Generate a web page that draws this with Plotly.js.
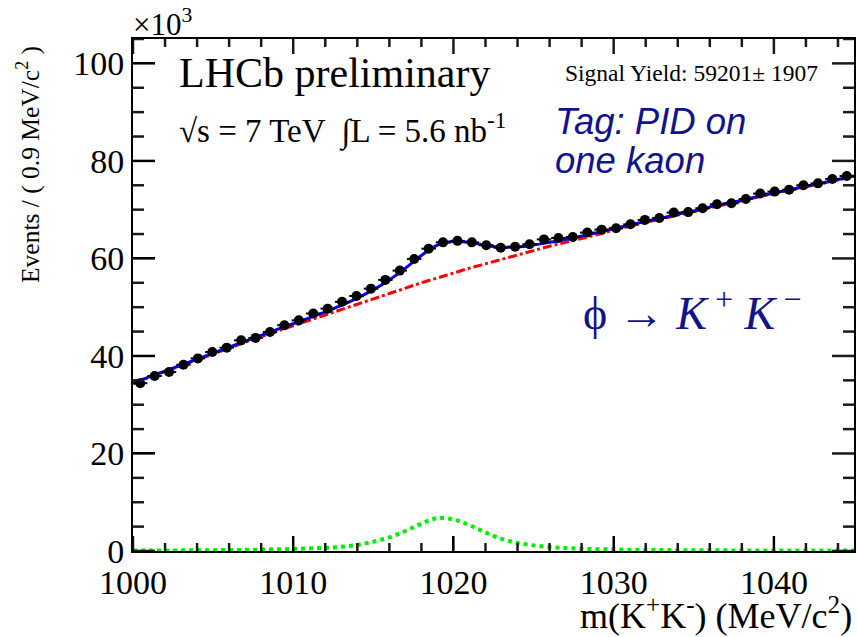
<!DOCTYPE html>
<html>
<head>
<meta charset="utf-8">
<script src="https://cdn.plot.ly/plotly-3.0.1.min.js"></script>
<style>html,body{margin:0;padding:0;background:#fff;}#chart{width:857px;height:637px;}</style>
</head>
<body>
<div id="chart"></div>
<script>
// Data points: bin centres (MeV/c^2) and events per 0.9 MeV/c^2 (x 10^3)
const binCenters = [1000.45,1001.35,1002.25,1003.15,1004.05,1004.95,1005.85,1006.75,1007.65,1008.55,
  1009.45,1010.35,1011.25,1012.15,1013.05,1013.95,1014.85,1015.75,1016.65,1017.55,
  1018.45,1019.35,1020.25,1021.15,1022.05,1022.95,1023.85,1024.75,1025.65,1026.55,
  1027.45,1028.35,1029.25,1030.15,1031.05,1031.95,1032.85,1033.75,1034.65,1035.55,
  1036.45,1037.35,1038.25,1039.15,1040.05,1040.95,1041.85,1042.75,1043.65,1044.55];
const events = [34.4,35.9,36.7,38.2,39.5,40.8,41.7,43.2,43.7,44.9,
  46.3,47.3,48.7,49.7,51.1,52.3,53.8,55.6,57.5,59.9,
  62.0,63.3,63.6,63.3,62.7,62.2,62.4,62.9,63.9,64.2,
  64.4,65.3,65.9,66.2,67.0,67.9,68.3,69.4,69.5,70.3,
  71.1,71.3,72.2,73.3,73.7,74.1,75.0,75.4,76.3,76.9];
const statErr = 0.3;       // per-bin statistical error (x 10^3)
const binHalfWidth = 0.45; // half of 0.9 MeV/c^2

// Fit curves sampled every 1 MeV/c^2
const curveMass = [1000,1001,1002,1003,1004,1005,1006,1007,1008,1009,1010,1011,1012,1013,1014,1015,
  1016,1017,1018,1019,1020,1021,1022,1023,1024,1025,1026,1027,1028,1029,1030,1031,1032,1033,1034,1035,
  1036,1037,1038,1039,1040,1041,1042,1043,1044,1045];
const totalFit = [34.4,35.7,36.9,38.1,39.35,40.6,41.8,43.0,44.2,45.45,46.6,47.8,49.05,50.35,51.85,53.6,
  55.6,58.0,60.6,62.75,63.45,63.3,62.7,62.3,62.35,62.75,63.3,63.9,64.6,65.3,66.1,66.85,67.6,68.3,69.05,69.75,
  70.55,71.25,71.9,72.7,73.4,74.1,74.8,75.5,76.2,76.9];
const background = [34.3,35.6,36.8,38.0,39.2,40.4,41.6,42.8,43.9,45.1,46.2,47.3,48.4,49.5,50.6,51.7,
  52.8,53.9,55.0,56.0,57.0,58.0,58.9,59.8,60.7,61.6,62.5,63.3,64.1,64.9,65.8,66.6,67.4,68.1,68.9,69.6,
  70.4,71.1,71.8,72.6,73.3,74.0,74.7,75.4,76.1,76.8];
const signal = [0.10,0.10,0.12,0.13,0.15,0.17,0.20,0.24,0.29,0.35,0.42,0.52,0.65,0.85,1.25,1.9,
  2.8,4.1,5.6,6.75,6.45,5.3,3.8,2.5,1.65,1.15,0.82,0.60,0.47,0.38,0.31,0.26,0.22,0.19,0.17,0.15,
  0.14,0.13,0.12,0.11,0.10,0.10,0.09,0.09,0.08,0.08];

const xTickLabels = [1000,1010,1020,1030,1040];
const yTickLabels = [0,20,40,60,80,100];
const xRange = [1000, 1045];
const yRange = [0, 105];

const serif = 'Liberation Serif, Times New Roman, serif';
const navy = '#12128c';

// ROOT-style inside tick marks on all four sides, drawn as one line trace (axis decoration)
const plotW = 721, plotH = 512;
const pxPerX = plotW / (xRange[1] - xRange[0]);
const pxPerY = plotH / (yRange[1] - yRange[0]);
const tx = [], ty = [];
for (let v = xRange[0]; v <= xRange[1]; v += 2) {
  const len = (v % 10 === 0 ? 15 : 8) / pxPerY;
  tx.push(v, v, null, v, v, null);
  ty.push(yRange[0], yRange[0] + len, null, yRange[1], yRange[1] - len, null);
}
for (let v = yRange[0]; v <= yRange[1]; v += 5) {
  const len = (v % 20 === 0 ? 22 : 11) / pxPerX;
  tx.push(xRange[0], xRange[0] + len, null, xRange[1], xRange[1] - len, null);
  ty.push(v, v, null, v, v, null);
}

const traces = [
  {x: curveMass, y: background, mode: 'lines', line: {color: '#ff0000', width: 3, dash: 'dashdot', shape: 'spline'}, hoverinfo: 'skip'},
  {x: curveMass, y: signal, mode: 'lines', line: {color: '#00ee00', width: 4, dash: 'dot', shape: 'spline'}, hoverinfo: 'skip'},
  {x: curveMass, y: totalFit, mode: 'lines', line: {color: '#0000ff', width: 3, shape: 'spline'}, hoverinfo: 'skip'},
  {x: binCenters, y: events, mode: 'markers', marker: {color: '#000', size: 10},
   error_y: {type: 'constant', value: statErr, color: '#000', thickness: 2, width: 0},
   error_x: {type: 'constant', value: binHalfWidth, color: '#000', thickness: 2, width: 0}},
  {x: tx, y: ty, mode: 'lines', line: {color: '#1a1a1a', width: 2.5}, connectgaps: false, hoverinfo: 'skip'}
];

const P = (px) => (px - 133) / 721;
const Q = (py) => (551 - py) / 512;

const layout = {
  width: 857, height: 637,
  margin: {l: 133, r: 3, t: 39, b: 86},
  paper_bgcolor: '#fff', plot_bgcolor: '#fff',
  showlegend: false,
  xaxis: {range: xRange, tickmode: 'array', tickvals: xTickLabels, ticktext: xTickLabels.map(String),
    ticks: 'inside', ticklen: 15, tickwidth: 2, tickcolor: '#000',
    showline: true, linecolor: '#000', linewidth: 2, mirror: true, showgrid: false, zeroline: false, fixedrange: true,
    tickfont: {family: serif, size: 34, color: '#000'}},
  yaxis: {range: yRange, tickmode: 'array', tickvals: yTickLabels, ticktext: yTickLabels.map(String),
    ticks: 'inside', ticklen: 22, tickwidth: 2, tickcolor: '#000',
    showline: true, linecolor: '#000', linewidth: 2, mirror: true, showgrid: false, zeroline: false, fixedrange: true,
    tickfont: {family: serif, size: 34, color: '#000'}},
  annotations: [
    {xref: 'paper', yref: 'paper', x: -0.003, y: Q(22), xanchor: 'left', yanchor: 'middle', showarrow: false,
     text: '×10<sup>3</sup>', font: {family: serif, size: 31, color: '#000'}},
    {xref: 'paper', yref: 'paper', x: P(177), y: Q(73), xanchor: 'left', yanchor: 'middle', showarrow: false,
     text: 'LHCb preliminary', font: {family: serif, size: 42, color: '#000'}},
    {xref: 'paper', yref: 'paper', x: P(177), y: Q(129), xanchor: 'left', yanchor: 'middle', showarrow: false,
     text: '√s = 7 TeV  ∫L = 5.6 nb<sup>-1</sup>', font: {family: serif, size: 33, color: '#000'}},
    {xref: 'paper', yref: 'paper', x: P(563), y: Q(73), xanchor: 'left', yanchor: 'middle', showarrow: false,
     text: 'Signal Yield: 59201± 1907', font: {family: serif, size: 23.5, color: '#000'}},
    {xref: 'paper', yref: 'paper', x: P(553), y: Q(121), xanchor: 'left', yanchor: 'middle', showarrow: false,
     text: '<i>Tag: PID on</i>', font: {family: 'Liberation Sans, Arial, sans-serif', size: 36.5, color: navy}},
    {xref: 'paper', yref: 'paper', x: P(553), y: Q(160), xanchor: 'left', yanchor: 'middle', showarrow: false,
     text: '<i>one kaon</i>', font: {family: 'Liberation Sans, Arial, sans-serif', size: 36.5, color: navy}},
    {xref: 'paper', yref: 'paper', x: P(581), y: Q(310), xanchor: 'left', yanchor: 'middle', showarrow: false,
     text: 'ϕ → <i>K</i><sup> +</sup><i> K</i><sup> −</sup>', font: {family: serif, size: 46, color: navy}},
    {xref: 'paper', yref: 'paper', x: P(28), y: Q(165), xanchor: 'center', yanchor: 'middle', showarrow: false, textangle: -90,
     text: 'Events / ( 0.9 MeV/c<sup>2</sup> )', font: {family: serif, size: 25.5, color: '#000'}},
    {xref: 'paper', yref: 'paper', x: 1.0, y: Q(613), xanchor: 'right', yanchor: 'middle', showarrow: false,
     text: 'm(K<sup>+</sup>K<sup>-</sup>) (MeV/c<sup>2</sup>)', font: {family: serif, size: 36, color: '#000'}}
  ]
};

Plotly.newPlot('chart', traces, layout, {displayModeBar: false, staticPlot: true});
</script>
</body>
</html>
